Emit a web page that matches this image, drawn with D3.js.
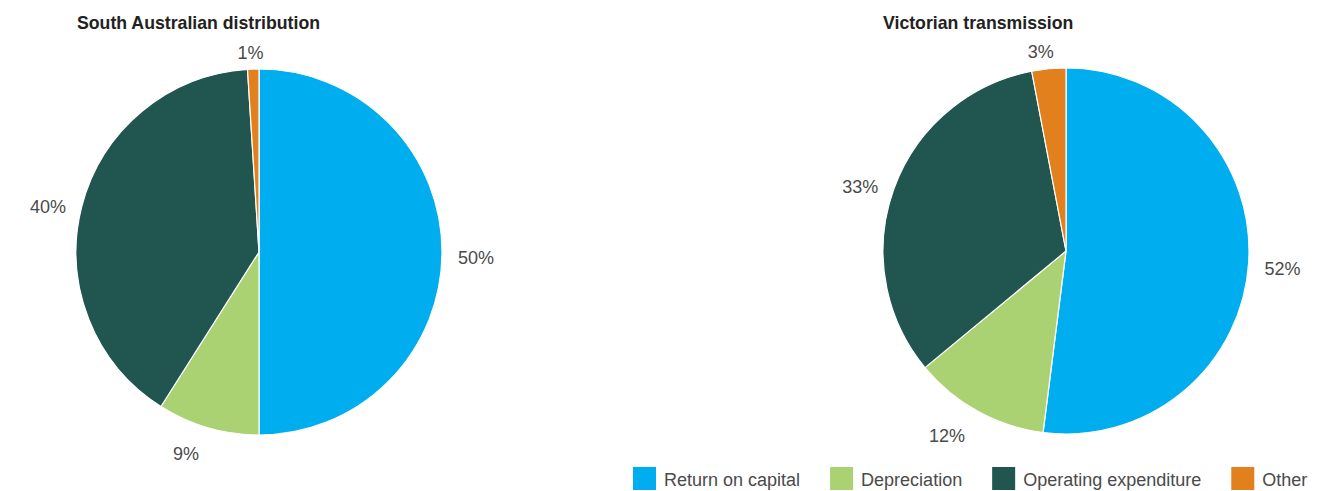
<!DOCTYPE html>
<html>
<head>
<meta charset="utf-8">
<script src="https://cdn.jsdelivr.net/npm/d3@7"></script>
<style>
  html, body { margin: 0; padding: 0; background: #fff; }
  svg { display: block; }
  text { font-family: "Liberation Sans", Arial, Helvetica, sans-serif; }
</style>
</head>
<body>
<svg id="chart" width="1340" height="491"></svg>
<script>
const categories = ["Return on capital", "Depreciation", "Operating expenditure", "Other"];
const colors = ["#00adee", "#aad272", "#215550", "#e2801e"];
const chartTitles = ["South Australian distribution", "Victorian transmission"];
const saValues = [50, 9, 40, 1];
const vicValues = [52, 12, 33, 3];

const svg = d3.select("#chart");
const radius = 183;

const charts = [
  { title: chartTitles[0], values: saValues, cx: 259, cy: 252, titleX: 77 },
  { title: chartTitles[1], values: vicValues, cx: 1066, cy: 251, titleX: 883 }
];

const pie = d3.pie().sort(null).value(d => d);
const arc = d3.arc().innerRadius(0).outerRadius(radius);
const color = d3.scaleOrdinal().domain(categories).range(colors);

charts.forEach(c => {
  svg.append("text")
    .attr("x", c.titleX).attr("y", 29)
    .attr("font-size", 17.7).attr("font-weight", "bold")
    .attr("fill", "#222")
    .text(c.title);

  const g = svg.append("g").attr("transform", `translate(${c.cx},${c.cy})`);
  const arcs = pie(c.values);
  g.selectAll("path").data(arcs).enter().append("path")
    .attr("d", arc)
    .attr("fill", (d, i) => color(categories[i]))
    .attr("stroke", "#fff")
    .attr("stroke-width", 1.2)
    .attr("stroke-linejoin", "round");

  arcs.forEach((d, i) => {
    const a = (d.startAngle + d.endAngle) / 2;
    const sx = Math.sin(a), sy = -Math.cos(a);
    const t = g.append("text")
      .attr("font-size", 18)
      .attr("fill", "#4a4a4a")
      .attr("text-anchor", "middle")
      .text(c.values[i] + "%");
    const hw = t.node().getComputedTextLength() / 2;
    const x = sx * (radius + 6) + Math.sign(sx) * hw * 1.55 * Math.min(1, Math.abs(sx) / 0.25);
    const y = sy * (radius + 22) + 5;
    t.attr("x", x).attr("y", y + 6.5);
  });
});

// Legend
const legend = svg.append("g");
let lx = 633;
categories.forEach((cat, i) => {
  legend.append("rect")
    .attr("x", lx).attr("y", 467)
    .attr("width", 23).attr("height", 23)
    .attr("fill", colors[i]);
  const t = legend.append("text")
    .attr("x", lx + 31).attr("y", 486)
    .attr("font-size", 18)
    .attr("fill", "#4a4a4a")
    .text(cat);
  lx = lx + 31 + t.node().getComputedTextLength() + 30;
});
</script>
</body>
</html>
